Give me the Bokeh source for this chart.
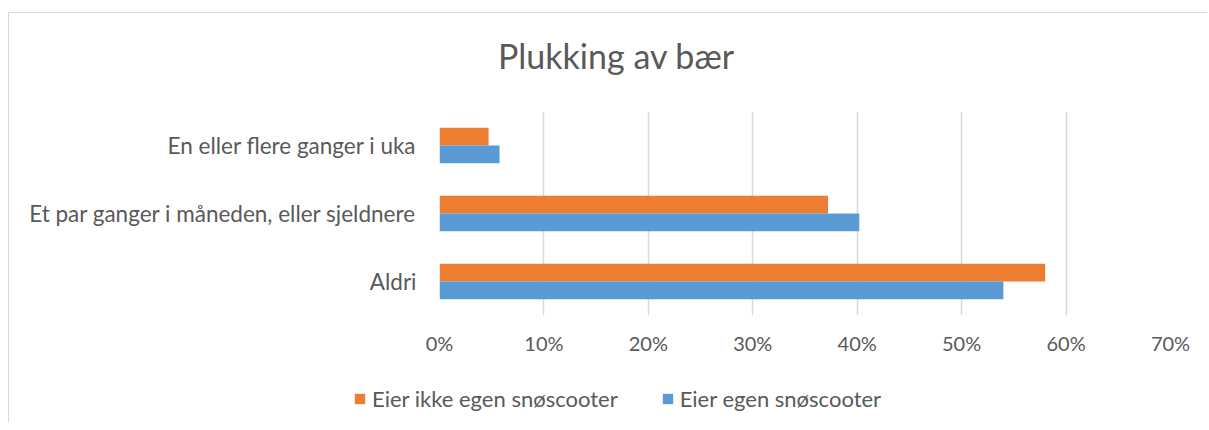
from bokeh.plotting import figure
from bokeh.layouts import column
from bokeh.models import (ColumnDataSource, FactorRange, Range1d, FixedTicker,
                          NumeralTickFormatter, Legend, LegendItem, Label)
from bokeh.transform import dodge
from bokeh.embed import file_html
from bokeh.resources import INLINE

# ---- data ----
title_text = "Plukking av bær"
categories = ["Aldri",
              "Et par ganger i måneden, eller sjeldnere",
              "En eller flere ganger i uka"]          # bottom -> top
eier_ikke = [0.58, 0.372, 0.047]   # Eier ikke egen snøscooter (orange)
eier = [0.54, 0.402, 0.0575]       # Eier egen snøscooter (blue)
series_names = ["Eier ikke egen snøscooter", "Eier egen snøscooter"]
x_ticks = [0, 0.1, 0.2, 0.3, 0.4, 0.5, 0.6, 0.7]

ORANGE = "#ED7D31"
BLUE = "#5B9BD5"
TEXT = "#595959"
GRID = "#D9D9D9"
FONT = "Lato"

W = 1198
TITLE_H, MAIN_H, LEG_H = 98, 261, 50


def strip(height):
    f = figure(width=W, height=height, x_range=Range1d(0, W),
               y_range=Range1d(0, height), output_backend="svg",
               toolbar_location=None, title=None, min_border=0)
    f.frame_align = False
    f.axis.visible = False
    f.grid.visible = False
    f.outline_line_color = None
    return f


# ---- title strip ----
tf = strip(TITLE_H)
tf.add_layout(Label(x=607, y=56, text=title_text, text_align="center",
                    text_baseline="alphabetic", text_font=FONT,
                    text_font_size="34px", text_color=TEXT))

# ---- main chart ----
src = ColumnDataSource(dict(cat=categories, a=eier_ikke, b=eier))
p = figure(width=W, height=MAIN_H, y_range=FactorRange(factors=categories),
           x_range=Range1d(0, 0.7), output_backend="svg",
           toolbar_location=None, title=None,
           min_border_left=430, min_border_right=W - 430 - 731,
           min_border_top=0, min_border_bottom=57)
p.frame_align = False
p.outline_line_color = None
p.background_fill_color = "white"
p.border_fill_color = "white"

bh = 0.26
p.hbar(y=dodge("cat", bh / 2, range=p.y_range), right="a", left=0,
       height=bh, source=src, color=ORANGE, line_color=None)
p.hbar(y=dodge("cat", -bh / 2, range=p.y_range), right="b", left=0,
       height=bh, source=src, color=BLUE, line_color=None)

p.xaxis.ticker = FixedTicker(ticks=x_ticks)
p.xaxis.formatter = NumeralTickFormatter(format="0%")
p.xaxis.axis_line_color = None
p.xaxis.major_tick_line_color = None
p.xaxis.minor_tick_line_color = None
p.xaxis.major_label_text_font = FONT
p.xaxis.major_label_text_font_size = "20px"
p.xaxis.major_label_text_color = TEXT
p.xaxis.major_label_standoff = 9

p.yaxis.axis_line_color = None
p.yaxis.major_tick_line_color = None
p.yaxis.minor_tick_line_color = None
p.yaxis.major_label_text_font = FONT
p.yaxis.major_label_text_font_size = "22.5px"
p.yaxis.major_label_text_color = TEXT
p.yaxis.major_label_standoff = 17

p.xgrid.grid_line_color = GRID
p.xgrid.grid_line_width = 1.5
p.ygrid.grid_line_color = None

# ---- legend strip ----
lg = strip(LEG_H)
la = lg.hbar(y=[-5], left=[0], right=[0], height=0.1, color=ORANGE, line_color=None)
lb = lg.hbar(y=[-5], left=[0], right=[0], height=0.1, color=BLUE, line_color=None)
legend = Legend(items=[LegendItem(label=series_names[0], renderers=[la]),
                       LegendItem(label=series_names[1], renderers=[lb])],
                orientation="horizontal", location=(344, 10),
                glyph_width=13, glyph_height=13, label_standoff=6, spacing=43,
                padding=0, margin=0, border_line_color=None,
                background_fill_alpha=0,
                label_text_font=FONT, label_text_font_size="22px",
                label_text_color=TEXT)
lg.add_layout(legend, "center")

layout = column(tf, p, lg, spacing=0, margin=(12, 0, 0, 8),
                styles={"border-top": "1px solid #D9D9D9",
                        "border-left": "1px solid #D9D9D9"})

open("out.html", "w").write(file_html(layout, INLINE))
